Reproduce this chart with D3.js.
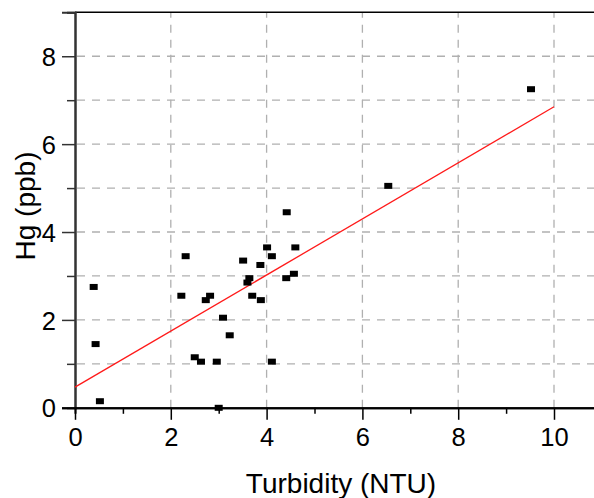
<!DOCTYPE html>
<html>
<head>
<meta charset="utf-8">
<script src="https://cdn.jsdelivr.net/npm/d3@7"></script>
<style>
  html, body { margin: 0; padding: 0; background: #fff; }
  svg { display: block; font-family: "Liberation Sans", Arial, sans-serif; }
</style>
</head>
<body>
<svg id="chart" width="594" height="498"></svg>
<script>
// Data
const turbidity = [0.39, 0.43, 0.52, 2.22, 2.31, 2.50, 2.63, 2.73, 2.82, 2.96, 3.00, 3.09, 3.23, 3.51,
                   3.60, 3.64, 3.70, 3.87, 3.88, 4.01, 4.11, 4.11, 4.41, 4.42, 4.57, 4.60, 6.54, 9.52];
const mercury   = [2.75, 1.45, 0.15, 2.55, 3.45, 1.15, 1.05, 2.45, 2.55, 1.05, 0.00, 2.05, 1.65, 3.35,
                   2.85, 2.95, 2.55, 3.25, 2.45, 3.65, 3.45, 1.05, 2.95, 4.45, 3.05, 3.65, 5.05, 7.25];
const fitX = [0, 10];
const fitY = [0.47, 6.85];
const xMajorTicks = [0, 2, 4, 6, 8, 10];
const xMinorTicks = [1, 3, 5, 7, 9];
const yMajorTicks = [0, 2, 4, 6, 8];
const yMinorTicks = [1, 3, 5, 7, 9];
const xGrid = [2, 4, 6, 8, 10];
const yGrid = [1, 2, 3, 4, 5, 6, 7, 8];
const xTitle = "Turbidity (NTU)";
const yTitle = "Hg (ppb)";

const svg = d3.select("#chart");
const x = d3.scaleLinear().domain([0, 11]).range([75, 75 + 11 * 47.9]);
const y = d3.scaleLinear().domain([0, 9]).range([407.8, 12.3]);

// grid
const grid = svg.append("g").attr("stroke", "#b0b0b0").attr("stroke-width", 1.3)
  .attr("stroke-dasharray", "8,7");
grid.selectAll("line.gx").data(xGrid).join("line").attr("class", "gx")
  .attr("x1", d => x(d)).attr("x2", d => x(d))
  .attr("y1", y(0)).attr("y2", y(9));
grid.selectAll("line.gy").data(yGrid).join("line").attr("class", "gy")
  .attr("x1", x(0) + 2).attr("x2", 594)
  .attr("y1", d => y(d)).attr("y2", d => y(d));

// top border
svg.append("line").attr("x1", x(0)).attr("x2", 594)
  .attr("y1", y(9)).attr("y2", y(9)).attr("stroke", "#000").attr("stroke-width", 1.5);

// axes
function styleAxis(g, color) {
  g.select(".domain").attr("stroke", color).attr("stroke-width", 2);
  g.selectAll(".tick line").attr("stroke", color).attr("stroke-width", 1.5);
  g.selectAll(".tick text").attr("fill", "#000").attr("font-size", 25.5)
    .attr("font-family", "Liberation Sans, Arial, sans-serif");
}
const yMinor = svg.append("g").attr("transform", `translate(${x(0)},0)`)
  .call(d3.axisLeft(y).tickValues(yMinorTicks).tickSize(8).tickFormat(""));
styleAxis(yMinor, "#333");
const yMajor = svg.append("g").attr("transform", `translate(${x(0)},0)`)
  .call(d3.axisLeft(y).tickValues(yMajorTicks).tickSize(13).tickPadding(6).tickFormat(d3.format("d")));
styleAxis(yMajor, "#333");
yMajor.selectAll(".tick text").attr("dy", "0.36em");

const xMinor = svg.append("g").attr("transform", `translate(0,${y(0)})`)
  .call(d3.axisBottom(x).tickValues(xMinorTicks).tickSize(6).tickFormat(""));
styleAxis(xMinor, "#000");
const xMajor = svg.append("g").attr("transform", `translate(0,${y(0)})`)
  .call(d3.axisBottom(x).tickValues(xMajorTicks).tickSize(12).tickPadding(8).tickFormat(d3.format("d")));
styleAxis(xMajor, "#000");
xMajor.select(".domain").attr("d", `M${x(0) - 13},0.5H594`);

// regression line
const lineGen = d3.line().x(d => x(d[0])).y(d => y(d[1]));
svg.append("path").datum(d3.zip(fitX, fitY)).attr("d", lineGen)
  .attr("fill", "none").attr("stroke", "#ff1a1a").attr("stroke-width", 1.3);

// points
svg.append("g").selectAll("rect").data(d3.zip(turbidity, mercury)).join("rect")
  .attr("x", d => x(d[0]) - 4).attr("y", d => y(d[1]) - 3)
  .attr("width", 8).attr("height", 6).attr("fill", "#000");

// titles
svg.append("text").attr("x", 341).attr("y", 493).attr("text-anchor", "middle")
  .attr("font-size", 28).attr("fill", "#000").text(xTitle);
svg.append("text").attr("transform", "translate(35,206) rotate(-90)").attr("text-anchor", "middle")
  .attr("font-size", 28).attr("fill", "#000").text(yTitle);
</script>
</body>
</html>
